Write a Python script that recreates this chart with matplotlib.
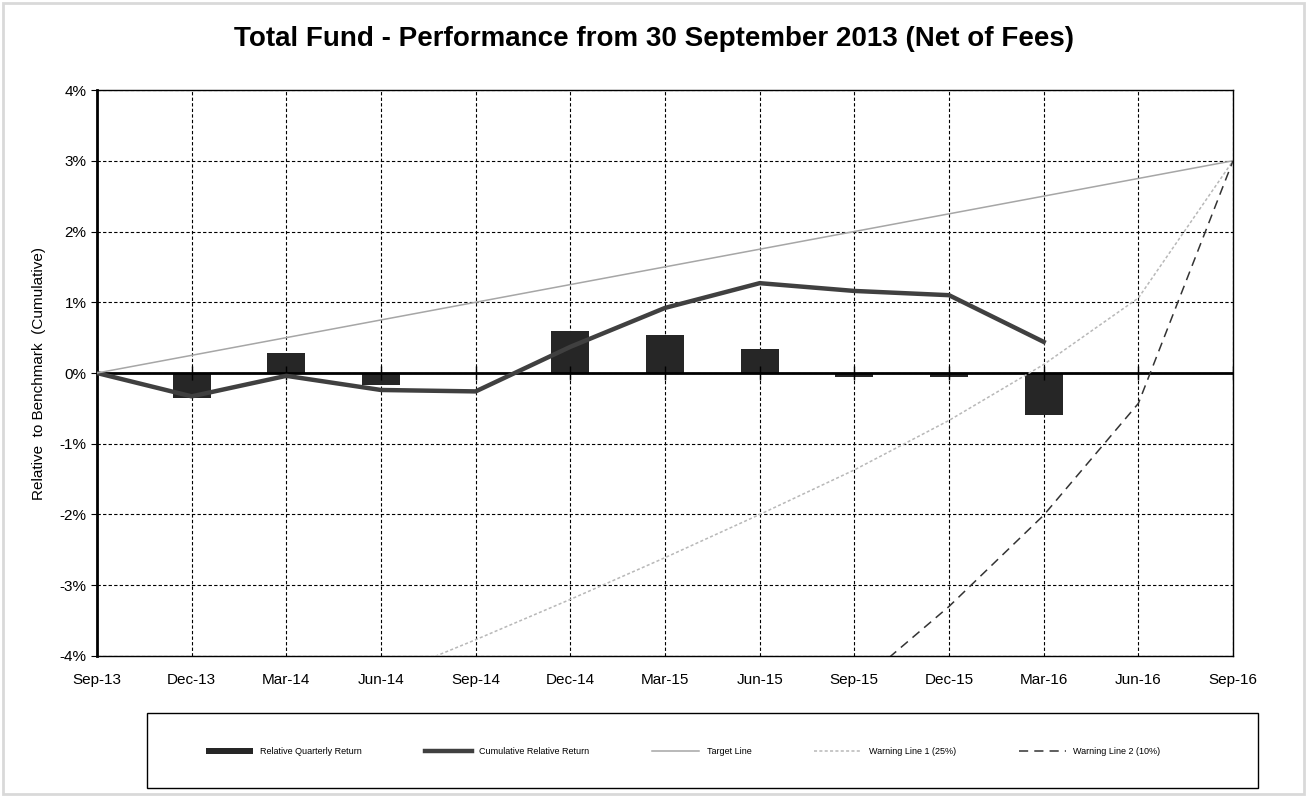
import numpy as np
import matplotlib.pyplot as plt
from matplotlib.patches import Rectangle
from matplotlib.ticker import FuncFormatter

plt.rcParams['font.family'] = ['Liberation Sans', 'DejaVu Sans']

# Quarter labels
quarters = ["Sep-13", "Dec-13", "Mar-14", "Jun-14", "Sep-14", "Dec-14", "Mar-15",
            "Jun-15", "Sep-15", "Dec-15", "Mar-16", "Jun-16", "Sep-16"]

# Relative quarterly return (%), Dec-13 .. Mar-16
quarterly_return = [-0.35, 0.28, -0.17, 0.0, 0.59, 0.54, 0.34, -0.06, -0.06, -0.60]

# Cumulative relative return (%), Sep-13 .. Mar-16
cumulative_return = [0.0, -0.33, -0.04, -0.24, -0.26, 0.37, 0.92, 1.27, 1.16, 1.10, 0.44]

# Target line (%), Sep-13 .. Sep-16
target_line = [0.0, 0.25, 0.5, 0.75, 1.0, 1.25, 1.5, 1.75, 2.0, 2.25, 2.5, 2.75, 3.0]

# Warning line 1 (25%), Jun-14 .. Sep-16
warning1 = [-4.32, -3.77, -3.20, -2.61, -2.00, -1.37, -0.67, 0.12, 1.06, 3.0]

# Warning line 2 (10%), Sep-15 .. Sep-16
warning2 = [-4.44, -3.30, -2.01, -0.43, 3.0]

x = np.arange(len(quarters))

fig = plt.figure(figsize=(13.07, 7.96), dpi=100)
fig.patch.set_facecolor("white")
fig.patches.append(Rectangle((0.002, 0.002), 0.996, 0.994, transform=fig.transFigure,
                             fill=False, edgecolor="#d9d9d9", linewidth=2))
ax = fig.add_axes([0.0742, 0.1759, 0.8692, 0.711])

ax.set_axisbelow(True)
ax.grid(True, color="black", linestyle=(0, (3, 2)), linewidth=0.8)

bars = ax.bar(x[1:11], quarterly_return, width=0.4, color="#262626", zorder=3)
ax.axhline(0, color="black", linewidth=2, zorder=4)
ax.plot(x, np.zeros(len(x)), linestyle="none", marker="|", markersize=10,
        color="black", zorder=4)
cum, = ax.plot(x[:11], cumulative_return, color="#404040", linewidth=3.2, zorder=5)
tgt, = ax.plot(x, target_line, color="#a6a6a6", linewidth=1.1, zorder=5)
w1, = ax.plot(x[3:], warning1, color="#b8b8b8", linewidth=1.1, linestyle=(0, (2, 1.5)),
              zorder=5)
w2, = ax.plot(x[8:], warning2, color="#333333", linewidth=1.1, linestyle=(0, (6, 4)),
              zorder=5)

ax.set_xlim(0, 12)
ax.set_ylim(-4, 4)
ax.set_xticks(x)
ax.set_xticklabels(quarters)
ax.set_yticks(np.arange(-4, 5, 1))
ax.yaxis.set_major_formatter(FuncFormatter(lambda v, p: f"{v:.0f}%"))
ax.tick_params(axis="both", labelsize=11, length=4, color="black")
ax.tick_params(axis="x", length=0, pad=12)
ax.spines["left"].set_linewidth(2)
for s in ["top", "right", "bottom"]:
    ax.spines[s].set_linewidth(1)

ax.set_ylabel("Relative  to Benchmark  (Cumulative)", fontsize=11, labelpad=10)
fig.text(0.5, 0.951, "Total Fund - Performance from 30 September 2013 (Net of Fees)",
         ha="center", va="center", fontsize=20, fontweight="bold")

# legend box
fig.patches.append(Rectangle((147 / 1307, 1 - 788 / 796), 1111 / 1307, 75 / 796,
                             transform=fig.transFigure, fill=False,
                             edgecolor="black", linewidth=1))
fig.legend([bars, cum, tgt, w1, w2],
           ["Relative Quarterly Return", "Cumulative Relative Return", "Target Line",
            "Warning Line 1 (25%)", "Warning Line 2 (10%)"],
           loc="center", bbox_to_anchor=(683 / 1307, 1 - 752 / 796), ncol=5,
           frameon=False, fontsize=6.5, handlelength=5.2, columnspacing=7,
           handleheight=0.6)

fig.savefig("out.png", dpi=100)
